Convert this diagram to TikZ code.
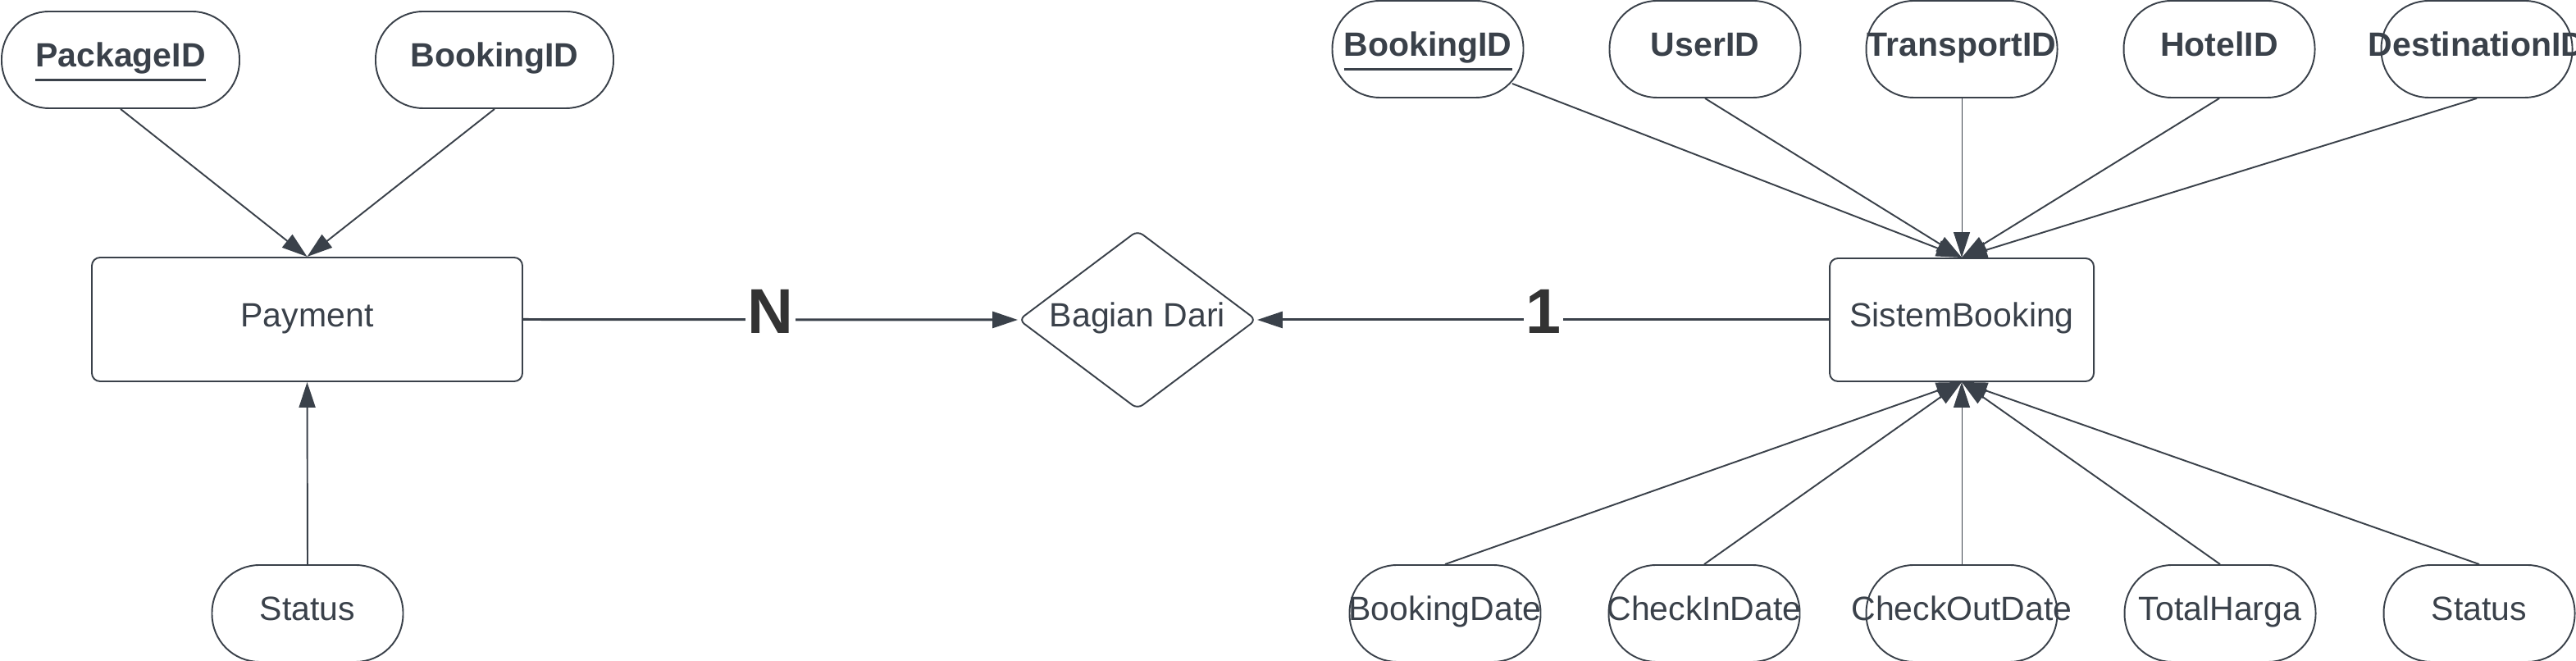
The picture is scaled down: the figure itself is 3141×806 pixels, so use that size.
\documentclass[tikz,border=0pt]{standalone}
\usepackage{fontspec}
\setmainfont{Liberation Sans}
\usetikzlibrary{arrows.meta,shapes.geometric,calc}
\definecolor{ink}{HTML}{3A414A}
\definecolor{lbl}{HTML}{333333}
\newcommand\keyul[1]{\leavevmode\vtop{\hbox{#1}\kern1.5pt\hrule height 0.9pt}}
\tikzset{
  txt/.style={font=\fontsize{11.67pt}{14pt}\selectfont, text=ink, inner sep=0pt, text height=3mm, text depth=1.2mm},
  attrw/.style={txt, draw=ink, line width=0.55pt, rounded corners=5.8mm, minimum height=11.8mm, minimum width=29mm},
  attr/.style={txt, draw=ink, line width=0.55pt, rounded corners=5.8mm, minimum height=11.8mm, minimum width=23.3mm},
  entity/.style={txt, draw=ink, line width=0.55pt, rounded corners=1mm, minimum width=52.5mm, minimum height=15.1mm},
  entitys/.style={txt, draw=ink, line width=0.55pt, rounded corners=1mm, minimum width=32.2mm, minimum height=15mm},
  rel/.style={txt, diamond, draw=ink, line width=0.55pt, rounded corners=0.8mm, minimum width=29mm, minimum height=21.8mm},
  conn/.style={draw=ink, line width=0.55pt, -{Triangle[length=3.1mm,width=2mm]}},
  connthin/.style={draw=ink, line width=0.3pt, -{Triangle[length=3.1mm,width=2mm]}},
  relline/.style={draw=ink, line width=0.85pt},
  card/.style={font=\fontsize{22pt}{24pt}\selectfont\bfseries, text=lbl, fill=white, inner xsep=0.25mm, inner ysep=0pt, anchor=base}
}
\begin{document}
\begin{tikzpicture}[x=0.1mm, y=-0.1mm]
\useasboundingbox (0,0) rectangle (3141,806);
% left entity
\node[attrw] (pk) at (147,73) {\makebox[0pt]{\bfseries\keyul{PackageID}}};
\node[attrw] (bl) at (603,73) {\makebox[0pt]{\bfseries BookingID}};
\node[entity] (pay) at (374.5,389.5) {\makebox[0pt]{Payment}};
\node[attr] (sl) at (375,748) {\makebox[0pt]{Status}};
\draw[conn] (pk.south) -- (pay.north);
\draw[conn] (bl.south) -- (pay.north);
\draw[conn] (sl.north) -- (pay.south);
% relationship
\node[rel] (dia) at (1387,390) {\makebox[0pt]{Bagian Dari}};
% right entity
\node[entitys] (sb) at (2392,390) {\makebox[0pt]{SistemBooking}};
\node[attr] (bk2) at (1741,60) {\makebox[0pt]{\bfseries\keyul{BookingID}}};
\node[attr] (uid) at (2079,60) {\makebox[0pt]{\bfseries UserID}};
\node[attr] (tid) at (2392,60) {\makebox[0pt]{\bfseries TransportID}};
\node[attr] (hid) at (2706,60) {\makebox[0pt]{\bfseries HotelID}};
\node[attr] (did) at (3020,60) {\makebox[0pt]{\bfseries DestinationID}};
\node[attr] (bd) at (1762,748) {\makebox[0pt]{BookingDate}};
\node[attr] (cid) at (2078,748) {\makebox[0pt]{CheckInDate}};
\node[attr] (cod) at (2392,748) {\makebox[0pt]{CheckOutDate}};
\node[attr] (th) at (2707,748) {\makebox[0pt]{TotalHarga}};
\node[attr] (st) at (3023,748) {\makebox[0pt]{Status}};
\draw[conn] ($(bk2.center)+(103,42)$) -- (sb.north);
\draw[conn] (uid.south) -- (sb.north);
\draw[connthin] (tid.south) -- (sb.north);
\draw[conn] (hid.south) -- (sb.north);
\draw[conn] (did.south) -- (sb.north);
\draw[conn] (bd.north) -- (sb.south);
\draw[conn] (cid.north) -- (sb.south);
\draw[connthin] (cod.north) -- (sb.south);
\draw[conn] (th.north) -- (sb.south);
\draw[conn] (st.north) -- (sb.south);
% relationship lines
\draw[relline, -{Triangle[length=3.1mm,width=2mm]}] (pay.east) -- node[card, pos=0.5, yshift=-1.7mm] (cn) {N} (dia.west);
\draw[relline, -{Triangle[length=3.1mm,width=2mm]}] (sb.west) -- node[card, pos=0.5, yshift=-1.7mm] (c1) {1} (dia.east);
\end{tikzpicture}
\end{document}
